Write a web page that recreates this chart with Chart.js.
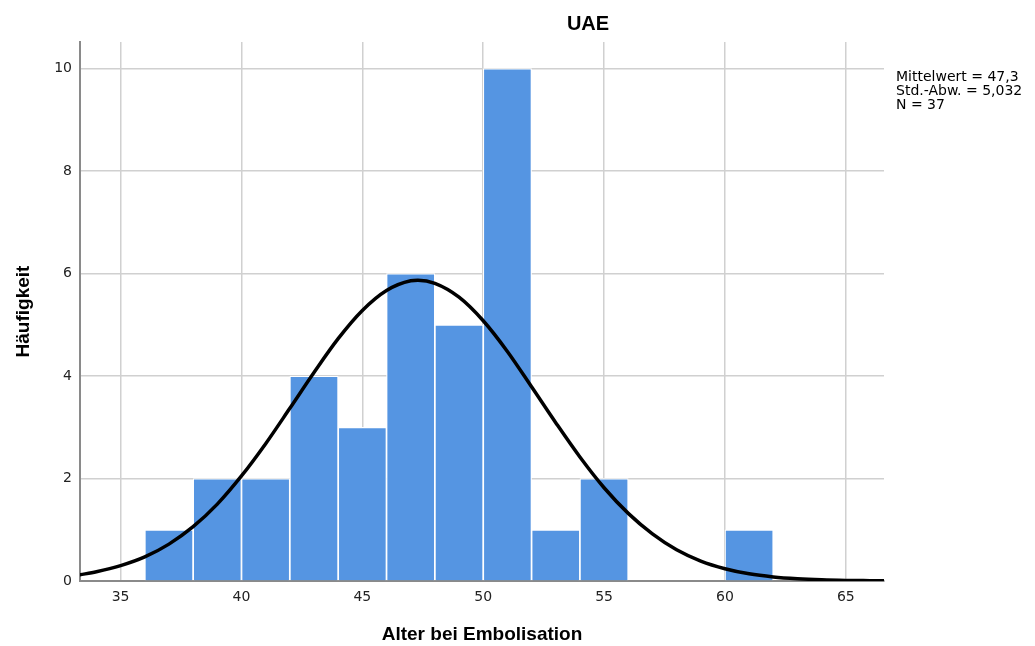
<!DOCTYPE html>
<html>
<head>
<meta charset="utf-8">
<script src="https://cdn.jsdelivr.net/npm/chart.js@4.4.1/dist/chart.umd.min.js"></script>
<style>
  html, body { margin: 0; padding: 0; background: #fff; }
  #wrap { width: 1035px; height: 646px; position: relative; }
</style>
</head>
<body>
<div id="wrap"><canvas id="chart"></canvas></div>
<script>
// histogram bins (width 2), centre of each bin and its count
const binCenters = [37, 39, 41, 43, 45, 47, 49, 51, 53, 55, 57, 59, 61];
const counts     = [1, 2, 2, 4, 3, 6, 5, 10, 1, 2, 0, 0, 1];

// normal curve
const curveX = [33.3, 34, 35, 36, 37, 38, 39, 40, 41, 42, 43, 44, 45, 46, 47, 47.3, 48, 49, 50,
                51, 52, 53, 54, 55, 56, 57, 58, 59, 60, 61, 62, 63, 64, 65, 66, 66.6];
const curveY = [0.12, 0.18, 0.30, 0.47, 0.72, 1.06, 1.50, 2.05, 2.68, 3.37, 4.07, 4.73, 5.28, 5.67, 5.86, 5.87, 5.81, 5.54, 5.08,
                4.48, 3.79, 3.09, 2.42, 1.82, 1.32, 0.92, 0.61, 0.39, 0.24, 0.14, 0.08, 0.045, 0.024, 0.012, 0.006, 0.003];

const xTicks = [35, 40, 45, 50, 55, 60, 65];
const yTicks = [0, 2, 4, 6, 8, 10];
const stats = ['Mittelwert = 47,3', 'Std.-Abw. = 5,032', 'N = 37'];
const chartTitle = 'UAE';

const barColor = 'rgb(85, 149, 226)';

// title and the statistics box on the right
const annotations = {
  id: 'annotations',
  afterDraw(chart) {
    const ctx = chart.ctx;
    const area = chart.chartArea;
    ctx.save();
    ctx.fillStyle = '#000';
    ctx.font = 'bold 20px "Liberation Sans", Arial, sans-serif';
    ctx.textAlign = 'center';
    ctx.textBaseline = 'middle';
    ctx.fillText(chartTitle, 588, 24);

    ctx.font = '14px "DejaVu Sans", sans-serif';
    ctx.textAlign = 'left';
    ctx.textBaseline = 'top';
    stats.forEach((s, i) => ctx.fillText(s, area.right + 12, 70 + i * 14));
    ctx.restore();
  }
};

new Chart(document.getElementById('chart'), {
  type: 'bar',
  data: {
    datasets: [
      {
        type: 'line',
        data: curveX.map((x, i) => ({ x: x, y: curveY[i] })),
        borderColor: '#000',
        borderWidth: 3.5,
        pointRadius: 0,
        cubicInterpolationMode: 'monotone',
        fill: false,
        order: 0
      },
      {
        type: 'bar',
        data: binCenters.map((x, i) => ({ x: x, y: counts[i] })),
        backgroundColor: barColor,
        borderColor: '#fff',
        borderWidth: 1.2,
        borderSkipped: 'start',
        barPercentage: 1,
        categoryPercentage: 1,
        order: 1
      }
    ]
  },
  options: {
    responsive: true,
    maintainAspectRatio: false,
    animation: false,
    layout: { padding: { left: 0, right: 151, top: 42, bottom: 0 } },
    plugins: {
      legend: { display: false },
      tooltip: { enabled: false }
    },
    scales: {
      x: {
        type: 'linear',
        min: 33.32,
        max: 66.58,
        offset: false,
        afterBuildTicks: s => { s.ticks = xTicks.map(v => ({ value: v })); },
        afterFit: s => { s.height = 65; },
        grid: { color: '#d0d0d0', lineWidth: 1.5, drawTicks: false, offset: false },
        border: { display: true, color: '#8a8a8a', width: 2 },
        ticks: {
          padding: 8,
          color: '#222',
          font: { family: '"DejaVu Sans", sans-serif', size: 14 },
          maxRotation: 0
        },
        title: {
          display: true,
          text: 'Alter bei Embolisation',
          color: '#000',
          font: { family: '"Liberation Sans", Arial, sans-serif', size: 19, weight: 'bold' },
          padding: { top: 0, bottom: 0 }
        }
      },
      y: {
        min: 0,
        max: 10.52,
        afterBuildTicks: s => { s.ticks = yTicks.map(v => ({ value: v })); },
        afterFit: s => { s.width = 80; },
        grid: { color: '#d0d0d0', lineWidth: 1.5, drawTicks: false },
        border: { display: true, color: '#8a8a8a', width: 2 },
        ticks: {
          padding: 8,
          color: '#222',
          font: { family: '"DejaVu Sans", sans-serif', size: 14 }
        },
        title: {
          display: true,
          text: 'Häufigkeit',
          color: '#000',
          font: { family: '"Liberation Sans", Arial, sans-serif', size: 19, weight: 'bold' },
          padding: { top: 12, bottom: 0 }
        }
      }
    }
  },
  plugins: [annotations]
});
</script>
</body>
</html>
